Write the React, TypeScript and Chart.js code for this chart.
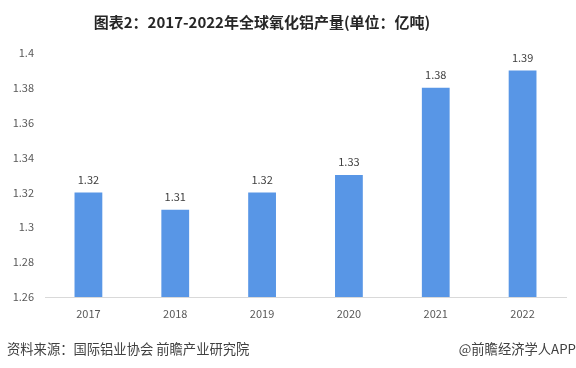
import React, { useEffect, useRef } from "react";
import { Chart, registerables } from "chart.js";

Chart.register(...registerables);

const TITLE = "图表2：2017-2022年全球氧化铝产量(单位：亿吨)";
const SOURCE = "资料来源：国际铝业协会 前瞻产业研究院";
const CREDIT = "@前瞻经济学人APP";
const years = ["2017", "2018", "2019", "2020", "2021", "2022"];
const output = [1.32, 1.31, 1.32, 1.33, 1.38, 1.39];
const yMin = 1.26;
const yMax = 1.4;
const yStep = 0.02;

const FONT = "'Noto Sans CJK SC', 'Microsoft YaHei', sans-serif";
const BAR_COLOR = "#5896E6";
const TEXT_COLOR = "#595959";

const textPlugin = {
  id: "textPlugin",
  afterDatasetsDraw(chart: any) {
    const ctx = chart.ctx;
    ctx.save();
    const meta = chart.getDatasetMeta(0);
    ctx.font = `11px ${FONT}`;
    ctx.fillStyle = "#404040";
    ctx.textAlign = "center";
    ctx.textBaseline = "middle";
    meta.data.forEach((bar: any, i: number) => {
      ctx.fillText(output[i].toFixed(2), bar.x, bar.y - 13);
    });
    ctx.font = `bold 15px ${FONT}`;
    ctx.fillStyle = "#262626";
    ctx.textAlign = "center";
    ctx.fillText(TITLE, 262, 22);
    ctx.font = `13.3px ${FONT}`;
    ctx.fillStyle = "#404040";
    ctx.textAlign = "left";
    ctx.fillText(SOURCE, 7, 349);
    ctx.textAlign = "right";
    ctx.fillText(CREDIT, 576, 349);
    ctx.restore();
  },
};

export default function App() {
  const ref = useRef<HTMLCanvasElement>(null);
  useEffect(() => {
    document.body.style.margin = "0";
    const chart = new Chart(ref.current!, {
      type: "bar",
      data: {
        labels: years,
        datasets: [
          {
            data: output,
            backgroundColor: BAR_COLOR,
            barPercentage: 0.32,
            categoryPercentage: 1,
          },
        ],
      },
      options: {
        animation: false,
        responsive: false,
        layout: { padding: { top: 53, right: 10, left: 0, bottom: 0 } },
        plugins: { legend: { display: false }, tooltip: { enabled: false } },
        scales: {
          x: {
            grid: { display: false, drawTicks: false },
            border: { display: true, color: "#D9D9D9" },
            ticks: { color: TEXT_COLOR, font: { size: 11, family: FONT }, padding: 10 },
            afterFit(axis: any) {
              axis.height = 71;
            },
          },
          y: {
            min: yMin,
            max: yMax,
            grid: { display: false, drawTicks: false },
            border: { display: false },
            ticks: {
              stepSize: yStep,
              color: TEXT_COLOR,
              font: { size: 11, family: FONT },
              padding: 11,
              callback: (v: any) => String(Math.round(Number(v) * 100) / 100),
            },
            afterFit(axis: any) {
              axis.width = 45;
            },
          },
        },
      },
      plugins: [textPlugin],
    });
    return () => chart.destroy();
  }, []);
  return <canvas ref={ref} width={576} height={368} style={{ display: "block" }} />;
}
